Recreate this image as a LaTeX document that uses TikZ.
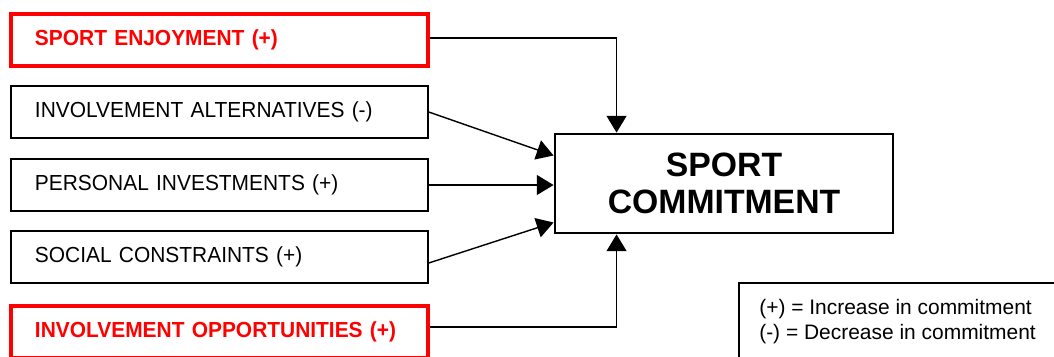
\documentclass[tikz,border=0pt]{standalone}
\usepackage{fontspec}
\setmainfont{Liberation Sans}
\newfontfamily\narrowfont[FakeStretch=0.96]{Liberation Sans}
\usetikzlibrary{arrows.meta,calc}
\definecolor{hot}{RGB}{255,0,0}

\begin{document}
\begin{tikzpicture}[
  x=0.025cm, y=-0.025cm,
  factor/.style={draw, line width=1pt, minimum width=10.425cm, minimum height=1.3cm,
    text width=9.225cm, inner xsep=0.6cm, align=left, font=\fontsize{15.5}{18}\narrowfont},
  keyfactor/.style={factor, draw=hot, text=hot, line width=2.3pt,
    font=\fontsize{15.5}{18}\narrowfont\bfseries},
  core/.style={draw, line width=2pt, minimum width=8.45cm, minimum height=2.475cm,
    align=center, font=\fontsize{24}{26.5}\selectfont\bfseries},
  legend/.style={inner xsep=0.5cm, inner ysep=0.4cm, align=left,
    font=\fontsize{14.9}{17.8}\selectfont},
  link/.style={line width=1pt, -{Triangle[length=0.42cm, width=0.5cm]}}
]
  \clip (0,0) rectangle (1054,356);

  \node[keyfactor] (enjoy) at (219.5,40) {SPORT ENJOYMENT (+)};
  \node[factor] (altern) at (219.5,112) {INVOLVEMENT ALTERNATIVES (-)};
  \node[factor] (invest) at (219.5,185) {PERSONAL INVESTMENTS (+)};
  \node[factor] (social) at (219.5,257) {SOCIAL CONSTRAINTS (+)};
  \node[keyfactor] (opport) at (219.5,332) {INVOLVEMENT OPPORTUNITIES (+)};

  \node[core] (commit) at (724,183.5) {SPORT\\COMMITMENT};

  % key, its frame runs off the page
  \node[legend, anchor=north west] (key) at (739,283)
    {(+) = Increase in commitment\\(-) = Decrease in commitment};
  \draw[line width=1pt] (key.north west) rectangle ($(key.north west)+(340,110)$);

  % arrows into the commitment box
  \draw[link] ([yshift=0.05cm]enjoy.east) -| ($(commit.north west)+(63,0)$);
  \draw[link] (altern.east) -- ($(commit.west)+(0,-28)$);
  \draw[link] (invest.east) -- (invest.east -| commit.west);
  \draw[link] ($(social.east)+(0,6)$) -- ($(commit.west)+(0,39)$);
  \draw[link] ($(opport.east)+(0,-5)$) -| ($(commit.south west)+(63,0)$);
\end{tikzpicture}
\end{document}
